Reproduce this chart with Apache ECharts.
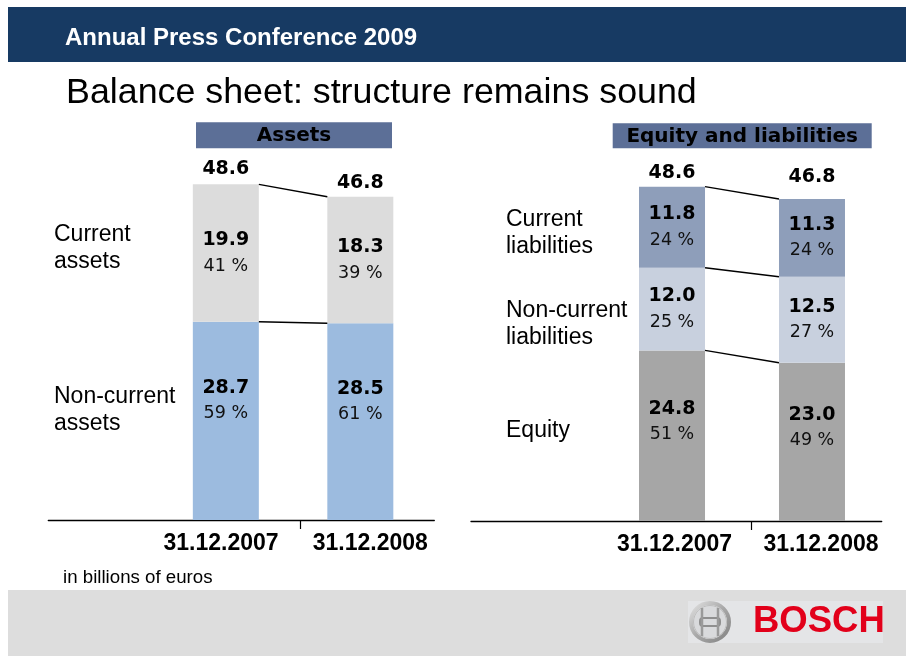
<!DOCTYPE html>
<html>
<head>
<meta charset="utf-8">
<title>Balance sheet: structure remains sound</title>
<script src="https://cdn.jsdelivr.net/npm/echarts@6/dist/echarts.min.js"></script>
<style>
  html, body { margin: 0; padding: 0; background: #ffffff; }
  #chart { width: 906px; height: 664px; }
</style>
</head>
<body>
<div id="chart"></div>
<script>
// Balance sheet dates (one stacked column each)
const dates = ['31.12.2007', '31.12.2008'];
const columnPos = [1, 2];

// Assets, in billions of euros
const nonCurrentAssets = [28.7, 28.5];
const currentAssets = [19.9, 18.3];
const nonCurrentAssetsPct = [59, 61];
const currentAssetsPct = [41, 39];

// Equity and liabilities, in billions of euros
const equity = [24.8, 23.0];
const nonCurrentLiabilities = [12.0, 12.5];
const currentLiabilities = [11.8, 11.3];
const equityPct = [51, 49];
const nonCurrentLiabilitiesPct = [25, 27];
const currentLiabilitiesPct = [24, 24];

const BAR_W = 66;
const NUM_FONT = 'DejaVu Sans';
const TEXT_FONT = 'Liberation Sans';

const sumOf = (...parts) => dates.map((_, i) => +parts.reduce((s, p) => s + p[i], 0).toFixed(1));
const assetsTotal = sumOf(nonCurrentAssets, currentAssets);
const liabNonCurrentTop = sumOf(equity, nonCurrentLiabilities);
const liabTotal = sumOf(equity, nonCurrentLiabilities, currentLiabilities);

const valueRich = {
  v: { fontFamily: NUM_FONT, fontWeight: 'bold', fontSize: 19, lineHeight: 26, color: '#000' },
  p: { fontFamily: NUM_FONT, fontSize: 17.5, lineHeight: 26, color: '#111' }
};

// Each item is [amount, column position]; the amount comes first so that
// it is the dimension the stack accumulates on.
function segment(name, values, pct, color, gi, stack, dy) {
  return {
    type: 'bar', name, stack,
    xAxisIndex: gi, yAxisIndex: gi,
    barWidth: BAR_W,
    data: values.map((v, i) => [v, columnPos[i]]),
    encode: { x: 1, y: 0 },
    itemStyle: { color },
    label: {
      show: true, position: 'inside', offset: [0, dy], color: '#000',
      formatter: p => `{v|${p.value[0].toFixed(1)}}\n{p|${pct[p.dataIndex]} %}`,
      rich: valueRich
    },
    silent: true,
    animation: false
  };
}

// Column totals written just above each column
function totals(values, gi, gaps) {
  return {
    type: 'custom', xAxisIndex: gi, yAxisIndex: gi,
    data: values.map((v, i) => [columnPos[i], v]),
    encode: { x: 0, y: 1 },
    renderItem: (params, api) => {
      const p = api.coord([api.value(0), api.value(1)]);
      return {
        type: 'text', x: p[0], y: p[1] - gaps[params.dataIndex],
        style: {
          text: api.value(1).toFixed(1), fill: '#000',
          font: `bold 19px "${NUM_FONT}"`, align: 'center', verticalAlign: 'bottom'
        }
      };
    },
    silent: true, animation: false, z: 5
  };
}

// Thin lines linking the same stack level of the two columns
function connectors(levels, gi) {
  return {
    type: 'custom', xAxisIndex: gi, yAxisIndex: gi,
    data: levels.map(l => [columnPos[0], l[0], l[1]]),
    encode: { x: 0, y: [1, 2] },
    renderItem: (params, api) => {
      const a = api.coord([api.value(0), api.value(1)]);
      const b = api.coord([api.value(0) + 1, api.value(2)]);
      return {
        type: 'line',
        shape: { x1: a[0] + BAR_W / 2, y1: a[1], x2: b[0] - BAR_W / 2, y2: b[1] },
        style: { stroke: '#000', lineWidth: 1.4 }
      };
    },
    silent: true, animation: false, z: 4
  };
}

function dateAxis(gi, min, max, tickAt, labelAt) {
  return {
    type: 'value', gridIndex: gi, min, max,
    splitLine: { show: false },
    axisLine: { show: true, lineStyle: { color: '#000', width: 1.3 } },
    axisTick: { show: true, customValues: [tickAt], length: 9, lineStyle: { color: '#000', width: 1.2 } },
    axisLabel: {
      show: true, customValues: labelAt, margin: 12,
      formatter: v => (v < tickAt ? dates[0] : dates[1]),
      fontFamily: TEXT_FONT, fontWeight: 'bold', fontSize: 23, color: '#000'
    }
  };
}

function hiddenValueAxis(gi) {
  return { type: 'value', gridIndex: gi, min: 0, max: 50, show: false };
}

function text(str, x, y, font, extra) {
  return {
    type: 'text', x, y, silent: true,
    style: Object.assign({ text: str, fill: '#000', font, align: 'left', verticalAlign: 'middle' }, extra || {})
  };
}

function labelBlock(str, x, y) {
  return {
    type: 'text', x, y, silent: true,
    style: { text: str, fill: '#000', font: `23px "${TEXT_FONT}"`, lineHeight: 27, align: 'left', verticalAlign: 'top' }
  };
}

function headerBox(str, x, y, w, h) {
  return {
    type: 'group', silent: true,
    children: [
      { type: 'rect', shape: { x, y, width: w, height: h }, style: { fill: '#5C6F97' } },
      { type: 'text', x: x + w / 2, y: y + h / 2 + 0.5,
        style: { text: str, fill: '#000', font: `bold 20px "${NUM_FONT}"`, align: 'center', verticalAlign: 'middle' } }
    ]
  };
}

const chart = echarts.init(document.getElementById('chart'), null, { renderer: 'canvas' });

chart.setOption({
  backgroundColor: '#ffffff',
  animation: false,
  grid: [
    { left: 48.3, right: 471.7, top: 174.7, bottom: 144, outerBoundsMode: 'none' },
    { left: 471, right: 24.3, top: 177, bottom: 143, outerBoundsMode: 'none' }
  ],
  xAxis: [
    dateAxis(0, -0.32, 2.55, 1.554, [0.964, 2.074]),
    dateAxis(1, -0.436, 2.498, 1.564, [1.018, 2.064])
  ],
  yAxis: [hiddenValueAxis(0), hiddenValueAxis(1)],
  series: [
    segment('Non-current assets', nonCurrentAssets, nonCurrentAssetsPct, '#9CBBDF', 0, 'assets', -20),
    segment('Current assets', currentAssets, currentAssetsPct, '#DCDCDC', 0, 'assets', 0),
    connectors([nonCurrentAssets, assetsTotal].map(a => [a[0], a[1]]), 0),
    totals(assetsTotal, 0, [6, 4]),

    segment('Equity', equity, equityPct, '#A6A6A6', 1, 'liab', -14),
    segment('Non-current liabilities', nonCurrentLiabilities, nonCurrentLiabilitiesPct, '#C8D0DE', 1, 'liab', 0),
    segment('Current liabilities', currentLiabilities, currentLiabilitiesPct, '#8E9EBA', 1, 'liab', 0),
    connectors([equity, liabNonCurrentTop, liabTotal].map(a => [a[0], a[1]]), 1),
    totals(liabTotal, 1, [4, 12])
  ],
  graphic: [
    // slide header band
    { type: 'rect', silent: true, shape: { x: 8, y: 7, width: 898, height: 55 }, style: { fill: '#173A63' } },
    text('Annual Press Conference 2009', 65, 38.5, `bold 24px "${TEXT_FONT}"`, { fill: '#ffffff' }),
    text('Balance sheet: structure remains sound', 66, 93.5, `35.8px "${TEXT_FONT}"`),

    headerBox('Assets', 196, 122.3, 196, 26),
    headerBox('Equity and liabilities', 612.7, 123.3, 259, 25),

    labelBlock('Current\nassets', 54, 221),
    labelBlock('Non-current\nassets', 54, 383),
    labelBlock('Current\nliabilities', 506, 206),
    labelBlock('Non-current\nliabilities', 506, 297),
    labelBlock('Equity', 506, 417),

    text('in billions of euros', 63, 578, `18.7px "${TEXT_FONT}"`),

    // footer band with logo
    { type: 'rect', silent: true, shape: { x: 8, y: 590, width: 898, height: 66 }, style: { fill: '#DDDDDD' } },
    { type: 'rect', silent: true, shape: { x: 688, y: 601, width: 195, height: 42 }, style: { fill: '#E4E5E7' } },
    {
      type: 'group', silent: true,
      children: [
        { type: 'circle', shape: { cx: 710, cy: 622, r: 19 },
          style: { fill: 'none', lineWidth: 4,
            stroke: new echarts.graphic.LinearGradient(0, 0, 1, 1, [
              { offset: 0, color: '#E8E8E8' }, { offset: 0.5, color: '#A8A8A8' }, { offset: 1, color: '#7E7E7E' }
            ]) } },
        { type: 'circle', shape: { cx: 710, cy: 622, r: 16.5 }, style: { fill: '#D9DADC', stroke: '#BDBDBD', lineWidth: 1 } },
        { type: 'rect', shape: { x: 700, y: 618, width: 20, height: 8, r: 3 }, style: { fill: 'none', stroke: '#8F8F8F', lineWidth: 2 } },
        { type: 'line', shape: { x1: 702, y1: 608, x2: 702, y2: 636 }, style: { stroke: '#9A9A9A', lineWidth: 2.5 } },
        { type: 'line', shape: { x1: 718, y1: 608, x2: 718, y2: 636 }, style: { stroke: '#9A9A9A', lineWidth: 2.5 } }
      ]
    },
    text('BOSCH', 753, 621.5, `bold 36.5px "${TEXT_FONT}"`, { fill: '#E2001A' })
  ]
});
</script>
</body>
</html>
